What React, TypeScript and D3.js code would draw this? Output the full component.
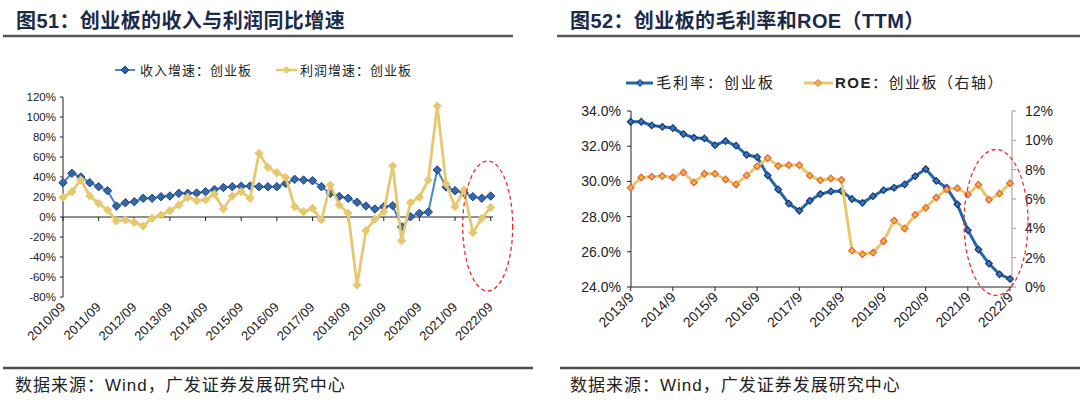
import React from 'react';
import * as d3 from 'd3';

// ---- left chart: revenue / profit yoy growth (%) ----
const revenueGrowth = [
  34.3, 43.7, 40, 34.3, 30.3, 26.3, 11, 14.3, 15.3, 18.7,
  18.7, 20.3, 21, 23.7, 23.7, 24, 25.3, 27.5, 29.5, 30.3,
  30.8, 31, 30.3, 30.3, 30.3, 33.7, 37.7, 37, 36.3, 30.3,
  23.7, 20.5, 18.7, 14.7, 11, 8, 10.3, 11.3, -10, 0.3,
  3.7, 5, 47, 30, 26.3, 24.3, 20.3, 18.7, 21,
];
const profitGrowth = [
  19.7, 25.3, 37, 21, 13.7, 7, -4, -3, -5.3, -9,
  -1.3, 2, 6.3, 12, 19.7, 16.3, 17, 23, 8, 21,
  25.3, 18.7, 63.7, 49.7, 44.3, 39.7, 10.3, 5.3, 8.7, -3,
  32, 12, 3.7, -68, -13.7, -2.3, 5.3, 51, -23.7, 14.3,
  19.7, 37, 111, 33, 10.3, 27, -15.7, -1.3, 9.7,
];
const leftYTicks = [-80, -60, -40, -20, 0, 20, 40, 60, 80, 100, 120];

// ---- right chart: gross margin (left axis) and ROE (right axis), % ----
const grossMargin = [
  33.39, 33.39, 33.18, 33.1, 33.03, 32.69, 32.48, 32.44, 32.06, 32.29,
  32.03, 31.51, 31.38, 30.34, 29.54, 28.74, 28.33, 28.9, 29.28, 29.43,
  29.46, 29.0, 28.78, 29.16, 29.5, 29.64, 29.83, 30.3, 30.7, 30.03,
  29.64, 28.7, 27.23, 26.13, 25.33, 24.72, 24.46,
];
const roe = [
  6.77, 7.47, 7.52, 7.56, 7.47, 7.81, 7.13, 7.72, 7.72, 7.33,
  6.99, 7.61, 8.22, 8.79, 8.25, 8.31, 8.31, 7.59, 7.27, 7.4,
  7.31, 2.48, 2.23, 2.35, 3.12, 4.53, 3.99, 4.92, 5.4, 6.1,
  6.65, 6.74, 6.31, 6.97, 5.95, 6.36, 7.08,
];
const marginTicks = [24, 26, 28, 30, 32, 34];
const roeTicks = [0, 2, 4, 6, 8, 10, 12];

// quarter labels
const quarters = (startYear: number, n: number, pad: boolean) =>
  d3.range(n).map(i => {
    const m = startYear * 12 + 8 + 3 * i;
    const mo = (m % 12) + 1;
    return `${Math.floor(m / 12)}/${pad && mo < 10 ? '0' + mo : mo}`;
  });
const leftCats = quarters(2010, revenueGrowth.length, true);
const rightCats = quarters(2013, grossMargin.length, false);

const FONT = "'Liberation Sans', Arial, 'Noto Sans CJK SC', sans-serif";
const diamond = (r: number) => `M0,${-r}L${r},0L0,${r}L${-r},0Z`;

const LeftChart = () => {
  const x = d3.scalePoint<string>().domain(leftCats).range([63, 490.7]);
  const y = d3.scaleLinear().domain([-80, 120]).range([297, 97]);
  const line = d3.line<number>().x((_, i) => x(leftCats[i])!).y(d => y(d));
  const ticks = leftCats.filter(c => c.endsWith('/09'));
  const last = leftCats[leftCats.length - 1];
  return (
    <g fontFamily={FONT}>
      <text x={16} y={28} fontSize={20} fontWeight="bold" letterSpacing={0.4} fill="#1c2a4a">图51：创业板的收入与利润同比增速</text>
      <line x1={3} x2={513} y1={36} y2={36} stroke="#555" strokeWidth={2.5} />

      {/* legend */}
      <line x1={115} x2={135} y1={70} y2={70} stroke="#4a86c8" strokeWidth={2} />
      <path d={diamond(4)} transform="translate(125,70)" fill="#2f62a8" stroke="#1d3f7a" />
      <text x={140} y={75} fontSize={13} letterSpacing={1} fill="#222">收入增速：创业板</text>
      <line x1={276} x2={297} y1={70} y2={70} stroke="#e6c870" strokeWidth={2.5} />
      <path d={diamond(4)} transform="translate(286.5,70)" fill="#e6c870" />
      <text x={300} y={75} fontSize={13} letterSpacing={1} fill="#222">利润增速：创业板</text>

      {/* y axis */}
      <line x1={63} x2={63} y1={y(120)} y2={y(-80)} stroke="#222" />
      {leftYTicks.map(t => (
        <g key={t}>
          <line x1={60} x2={63} y1={y(t)} y2={y(t)} stroke="#222" />
          <text x={56} y={y(t) + 4} textAnchor="end" fontSize={11.5} fill="#222">{t}%</text>
        </g>
      ))}
      {/* x axis at zero */}
      <line x1={63} x2={493} y1={y(0)} y2={y(0)} stroke="#222" />
      {ticks.map(c => (
        <g key={c}>
          <line x1={x(c)} x2={x(c)} y1={y(0)} y2={y(0) + 4} stroke="#222" />
          <text transform={`translate(${x(c)! + 3},308) rotate(-45)`} textAnchor="end" fontSize={13} fill="#222">{c}</text>
        </g>
      ))}

      <path d={line(revenueGrowth)!} fill="none" stroke="#4a86c8" strokeWidth={2} />
      {revenueGrowth.map((v, i) => (
        <path key={i} d={diamond(4.2)} transform={`translate(${x(leftCats[i])},${y(v)})`} fill="#3567ad" stroke="#1d3f7a" strokeWidth={1} />
      ))}
      <path d={line(profitGrowth)!} fill="none" stroke="#e6c870" strokeWidth={2.8} />
      {profitGrowth.map((v, i) => (
        <path key={i} d={diamond(4.6)} transform={`translate(${x(leftCats[i])},${y(v)})`} fill="#e6c870" />
      ))}

      <ellipse cx={x(last)! - 3} cy={y(-9)} rx={25} ry={65} fill="none" stroke="#ee2a2a" strokeWidth={1.3} strokeDasharray="4,3" />

      <line x1={3} x2={533} y1={368} y2={368} stroke="#4d4d4d" strokeWidth={2.5} />
      <text x={15} y={391} fontSize={17} letterSpacing={1} fill="#222">数据来源：Wind，广发证券发展研究中心</text>
    </g>
  );
};

const RightChart = () => {
  const x = d3.scalePoint<string>().domain(rightCats).range([630.7, 1010]);
  const yL = d3.scaleLinear().domain([24, 34]).range([287, 111]);
  const yR = d3.scaleLinear().domain([0, 12]).range([287, 111]);
  const lineL = d3.line<number>().x((_, i) => x(rightCats[i])!).y(d => yL(d));
  const lineR = d3.line<number>().x((_, i) => x(rightCats[i])!).y(d => yR(d));
  const ticks = rightCats.filter(c => c.endsWith('/9'));
  const last = rightCats[rightCats.length - 1];
  return (
    <g fontFamily={FONT}>
      <text x={570} y={28} fontSize={20} fontWeight="bold" letterSpacing={0.4} fill="#1c2a4a">图52：创业板的毛利率和ROE（TTM）</text>
      <line x1={557} x2={1080} y1={36} y2={36} stroke="#555" strokeWidth={2.5} />

      {/* legend */}
      <line x1={626} x2={653} y1={83} y2={83} stroke="#2066a8" strokeWidth={3} />
      <path d={diamond(3.5)} transform="translate(640,83)" fill="#3a78c0" stroke="#1a3670" />
      <text x={656} y={88} fontSize={15} letterSpacing={2} fill="#222">毛利率：创业板</text>
      <line x1={804} x2={833} y1={83} y2={83} stroke="#e7c969" strokeWidth={3} />
      <path d={diamond(3.5)} transform="translate(818,83)" fill="#f7b52c" stroke="#e06050" />
      <text x={835} y={88} fontSize={15} letterSpacing={1.5} fill="#222">
        <tspan fontWeight="bold">ROE</tspan>：创业板（右轴）
      </text>

      {/* left axis */}
      <line x1={631} x2={631} y1={111} y2={287} stroke="#222" />
      {marginTicks.map(t => (
        <g key={t}>
          <line x1={627} x2={631} y1={yL(t)} y2={yL(t)} stroke="#222" />
          <text x={621} y={yL(t) + 5} textAnchor="end" fontSize={14} fill="#222">{t.toFixed(1)}%</text>
        </g>
      ))}
      {/* right axis */}
      <line x1={1012} x2={1012} y1={111} y2={287} stroke="#999" />
      {roeTicks.map(t => (
        <g key={t}>
          <line x1={1012} x2={1016} y1={yR(t)} y2={yR(t)} stroke="#999" />
          <text x={1025} y={yR(t) + 5} fontSize={14} fill="#222">{t}%</text>
        </g>
      ))}
      {/* x axis */}
      <line x1={631} x2={1012} y1={287} y2={287} stroke="#222" />
      {ticks.map(c => (
        <g key={c}>
          <line x1={x(c)} x2={x(c)} y1={287} y2={291} stroke="#222" />
          <text transform={`translate(${x(c)! + 4},298) rotate(-45)`} textAnchor="end" fontSize={14} fill="#222">{c}</text>
        </g>
      ))}

      <path d={lineL(grossMargin)!} fill="none" stroke="#2066a8" strokeWidth={3} />
      {grossMargin.map((v, i) => (
        <path key={i} d={diamond(3.3)} transform={`translate(${x(rightCats[i])},${yL(v)})`} fill="#3a78c0" stroke="#1a3670" strokeWidth={1.2} />
      ))}
      <path d={lineR(roe)!} fill="none" stroke="#e7c969" strokeWidth={3} />
      {roe.map((v, i) => (
        <path key={i} d={diamond(3.3)} transform={`translate(${x(rightCats[i])},${yR(v)})`} fill="#f7b52c" stroke="#e06050" strokeWidth={1.2} />
      ))}

      <ellipse cx={x(last)! - 14} cy={yR(4.4)} rx={32} ry={73} fill="none" stroke="#ee2a2a" strokeWidth={1.3} strokeDasharray="4,3" />

      <line x1={560} x2={1080} y1={368} y2={368} stroke="#4d4d4d" strokeWidth={2.5} />
      <text x={570} y={391} fontSize={17} letterSpacing={1} fill="#222">数据来源：Wind，广发证券发展研究中心</text>
    </g>
  );
};

export default function App() {
  return (
    <div style={{ position: 'absolute', left: 0, top: 0, width: 1080, height: 404, background: '#fff' }}>
      <svg width={1080} height={404} style={{ display: 'block' }}>
        <rect width={1080} height={404} fill="#fff" />
        <LeftChart />
        <RightChart />
      </svg>
    </div>
  );
}
